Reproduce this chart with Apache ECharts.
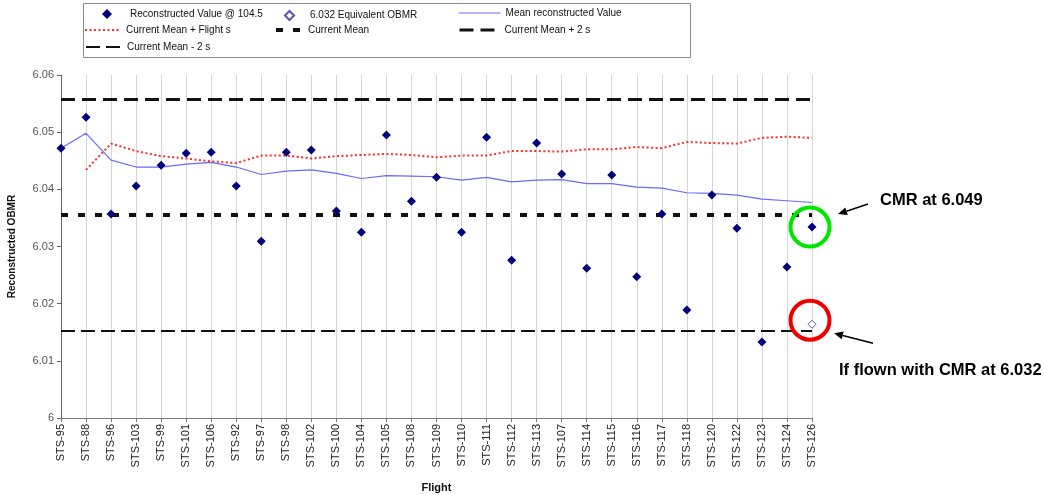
<!DOCTYPE html>
<html>
<head>
<meta charset="utf-8">
<script src="https://cdn.jsdelivr.net/npm/echarts@6/dist/echarts.min.js"></script>
<style>
html,body{margin:0;padding:0;background:#fff;}
#chart{width:1044px;height:495px;}
</style>
</head>
<body>
<div id="chart"></div>
<script>
const categories = ['STS-95','STS-88','STS-96','STS-103','STS-99','STS-101','STS-106','STS-92','STS-97','STS-98','STS-102','STS-100','STS-104','STS-105','STS-108','STS-109','STS-110','STS-111','STS-112','STS-113','STS-107','STS-114','STS-115','STS-116','STS-117','STS-118','STS-120','STS-122','STS-123','STS-124','STS-126'];

const reconstructed = [6.0472,6.0526,6.0357,6.0406,6.0442,6.0463,6.0465,6.0406,6.0309,6.0465,6.0469,6.0362,6.0325,6.0495,6.0379,6.0421,6.0325,6.0491,6.0276,6.0481,6.0427,6.0262,6.0425,6.0247,6.0357,6.0189,6.0390,6.0332,6.0133,6.0264,6.0334];

const obmrEquivalent = [['STS-126', 6.0164]];

const meanReconstructed = [6.0472,6.0498,6.0451,6.0439,6.0439,6.0444,6.0447,6.0439,6.0426,6.0432,6.0434,6.0428,6.0419,6.0424,6.0423,6.0422,6.0416,6.0421,6.0413,6.0416,6.0417,6.0410,6.0410,6.0404,6.0402,6.0394,6.0393,6.0390,6.0383,6.0380,6.0377];

const meanPlusFlightS = [null,6.0434,6.0480,6.0467,6.0458,6.0454,6.0449,6.0446,6.0459,6.0459,6.0454,6.0458,6.0460,6.0462,6.0460,6.0456,6.0459,6.0459,6.0467,6.0467,6.0466,6.0470,6.0470,6.0474,6.0472,6.0483,6.0481,6.0480,6.0490,6.0492,6.0490];

const currentMean = 6.0355;
const currentMeanPlus2s = 6.0558;
const currentMeanMinus2s = 6.0152;

const yMin = 6.00, yMax = 6.06, yInterval = 0.01;

const annotations = [
  { text: 'CMR at 6.049', category: 'STS-126', value: 6.0334, color: '#00e600' },
  { text: 'If flown with CMR at 6.032', category: 'STS-126', value: 6.0164, color: '#ee0000' }
];

const chart = echarts.init(document.getElementById('chart'));
const FONT = 'Arial, "Liberation Sans", sans-serif';

const styleMean = { color: '#6a6aff', width: 1.2, type: 'solid' };
const styleFlight = { color: '#ff2a2a', width: 2, type: [2, 2.5] };
const styleCur = { color: '#111', width: 4, type: [7, 10] };
const stylePlus = { color: '#111', width: 3, type: [14, 7] };
const styleMinus = { color: '#111', width: 2, type: [14, 6] };

function refSeries(name, value, ls) {
  return {
    name: name, type: 'line', data: [], symbol: 'none',
    lineStyle: ls, itemStyle: { color: ls.color },
    markLine: {
      silent: true, symbol: 'none', precision: 5, label: { show: false },
      lineStyle: ls, emphasis: { disabled: true },
      data: [{ yAxis: value }]
    },
    z: 1
  };
}

function leg(name, left, top, w, h, pad, ls) {
  const o = {
    data: [name], left: left, top: top, itemWidth: w, itemHeight: h,
    orient: 'horizontal', padding: 0, selectedMode: false,
    textStyle: { fontFamily: FONT, fontSize: 10, color: '#111', padding: [0, 0, 0, pad || 0] }
  };
  if (ls) {
    o.lineStyle = { color: ls.color, width: ls.width, type: ls.type };
    o.itemStyle = { opacity: 0, color: 'rgba(0,0,0,0)', borderWidth: 0 };
  }
  return o;
}

chart.setOption({
  animation: false,
  backgroundColor: '#fff',
  grid: { left: 61, right: 232, top: 75, bottom: 77, containLabel: false, outerBoundsMode: 'none' },
  legend: [
    leg('Reconstructed Value @ 104.5', 102, 9, 10, 10, 13),
    leg('6.032 Equivalent OBMR', 284, 10, 9, 9, 11),
    leg('Mean reconstructed Value', 458, 8, 42, 12, 0, styleMean),
    leg('Current Mean + Flight s', 84, 25, 36, 12, 0, styleFlight),
    leg('Current Mean', 274, 25, 27, 12, 0, styleCur),
    leg('Current Mean + 2 s', 458, 25, 40, 12, 0, stylePlus),
    leg('Current Mean - 2 s', 85, 42, 36, 12, 0, styleMinus)
  ],
  xAxis: {
    type: 'category', data: categories, boundaryGap: false,
    name: 'Flight', nameLocation: 'middle', nameGap: 64,
    nameTextStyle: { fontFamily: FONT, fontSize: 11, fontWeight: 'bold', color: '#111' },
    axisLine: { lineStyle: { color: '#777', width: 1 } },
    axisTick: { show: true, interval: 0, length: 4, lineStyle: { color: '#777' } },
    axisLabel: { interval: 0, rotate: 90, margin: 6, fontFamily: FONT, fontSize: 11, color: '#222' },
    splitLine: { show: true, interval: 0, lineStyle: { color: '#d6d6d6', width: 1 } }
  },
  yAxis: {
    type: 'value', min: yMin, max: yMax, interval: yInterval,
    name: 'Reconstructed OBMR', nameLocation: 'middle', nameGap: 44, nameRotate: 90,
    nameTextStyle: { fontFamily: FONT, fontSize: 10, fontWeight: 'bold', color: '#111' },
    axisLine: { show: true, lineStyle: { color: '#666', width: 1 } },
    axisTick: { show: true, length: 4, lineStyle: { color: '#666' } },
    axisLabel: { margin: 7, fontFamily: FONT, fontSize: 11, color: '#555',
      formatter: function (v) { return String(parseFloat(v.toFixed(2))); } },
    splitLine: { show: false }
  },
  series: [
    refSeries('Current Mean + 2 s', currentMeanPlus2s, stylePlus),
    refSeries('Current Mean', currentMean, styleCur),
    refSeries('Current Mean - 2 s', currentMeanMinus2s, styleMinus),
    {
      name: 'Mean reconstructed Value', type: 'line', data: meanReconstructed,
      symbol: 'none', lineStyle: styleMean, itemStyle: { color: styleMean.color }, z: 3
    },
    {
      name: 'Current Mean + Flight s', type: 'line', data: meanPlusFlightS,
      symbol: 'none', lineStyle: styleFlight, itemStyle: { color: styleFlight.color }, z: 3
    },
    {
      name: 'Reconstructed Value @ 104.5', type: 'scatter', data: reconstructed,
      symbol: 'diamond', symbolSize: 9, itemStyle: { color: '#00007a', opacity: 1 }, z: 5
    },
    {
      name: '6.032 Equivalent OBMR', type: 'scatter', data: obmrEquivalent,
      symbol: 'diamond', symbolSize: 8,
      itemStyle: { color: '#ffffff', borderColor: '#5555aa', borderWidth: 1, opacity: 1 }, z: 5
    }
  ]
});

function arrow(id, x1, y1, x2, y2) {
  const ang = Math.atan2(y2 - y1, x2 - x1);
  const L = 9, W = 4;
  const bx = x2 - L * Math.cos(ang), by = y2 - L * Math.sin(ang);
  const px = -Math.sin(ang) * W, py = Math.cos(ang) * W;
  return [
    { type: 'line', id: id + 'l', silent: true, shape: { x1: x1, y1: y1, x2: bx, y2: by },
      style: { stroke: '#000', lineWidth: 1.5 }, z: 10 },
    { type: 'polygon', id: id + 'h', silent: true,
      shape: { points: [[x2, y2], [bx + px, by + py], [bx - px, by - py]] },
      style: { fill: '#000' }, z: 10 }
  ];
}

const g = [
  { type: 'rect', id: 'legendBox', silent: true, shape: { x: 83.5, y: 3.5, width: 607, height: 54 },
    style: { fill: 'none', stroke: '#8a8a8a', lineWidth: 1 }, z: -1 }
];
const p0 = chart.convertToPixel({ xAxisIndex: 0, yAxisIndex: 0 }, [annotations[0].category, annotations[0].value]);
const p1 = chart.convertToPixel({ xAxisIndex: 0, yAxisIndex: 0 }, [annotations[1].category, annotations[1].value]);
const c0 = [p0[0] - 2, p0[1]];
const c1 = [p1[0] - 2, p1[1] - 4];
g.push({ type: 'circle', id: 'c0', silent: true, shape: { cx: c0[0], cy: c0[1], r: 19.5 },
  style: { fill: 'none', stroke: annotations[0].color, lineWidth: 4 }, z: 9 });
g.push({ type: 'circle', id: 'c1', silent: true, shape: { cx: c1[0], cy: c1[1], r: 19.5 },
  style: { fill: 'none', stroke: annotations[1].color, lineWidth: 4 }, z: 9 });
arrow('a0', c0[0] + 58, c0[1] - 23, c0[0] + 28, c0[1] - 13).forEach(e => g.push(e));
arrow('a1', c1[0] + 63, c1[1] + 23, c1[0] + 24, c1[1] + 13).forEach(e => g.push(e));
g.push({ type: 'text', id: 't0', silent: true, x: c0[0] + 70, y: c0[1] - 27,
  style: { text: annotations[0].text, fill: '#000', font: 'bold 16.5px ' + FONT, textVerticalAlign: 'middle' }, z: 10 });
g.push({ type: 'text', id: 't1', silent: true, x: c1[0] + 29, y: c1[1] + 50,
  style: { text: annotations[1].text, fill: '#000', font: 'bold 16.5px ' + FONT, textVerticalAlign: 'middle' }, z: 10 });
chart.setOption({ graphic: g });
</script>
</body>
</html>
